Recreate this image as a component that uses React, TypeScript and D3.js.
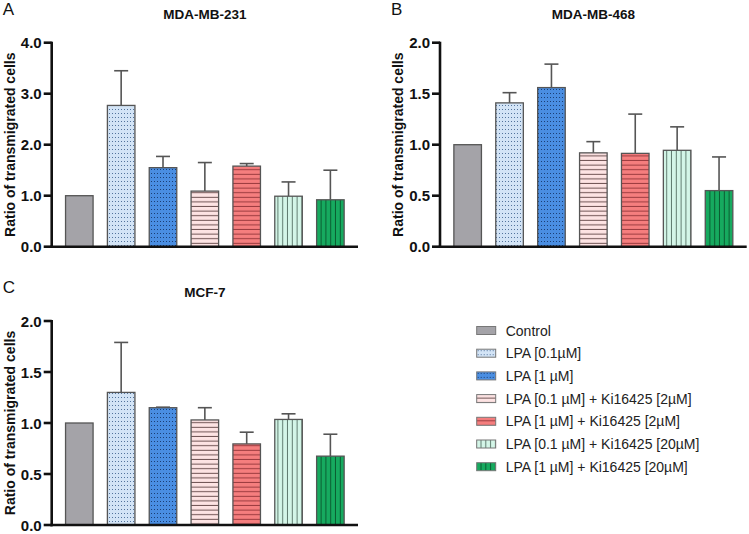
import React from "react";
import * as d3 from "d3";

const groups = [
  "Control",
  "LPA [0.1µM]",
  "LPA [1 µM]",
  "LPA [0.1 µM] + Ki16425 [2µM]",
  "LPA [1 µM] + Ki16425 [2µM]",
  "LPA [0.1 µM] + Ki16425 [20µM]",
  "LPA [1 µM] + Ki16425 [20µM]",
];

const meansA = [1.0, 2.77, 1.55, 1.09, 1.58, 0.99, 0.92];
const upperA = [1.0, 3.45, 1.77, 1.65, 1.63, 1.27, 1.5];
const meansB = [1.0, 1.41, 1.56, 0.92, 0.915, 0.945, 0.55];
const upperB = [1.0, 1.51, 1.79, 1.03, 1.3, 1.175, 0.88];
const meansC = [1.0, 1.3, 1.15, 1.03, 0.795, 1.035, 0.675];
const upperC = [1.0, 1.79, 1.155, 1.15, 0.91, 1.09, 0.89];

const ticksA = [0, 1, 2, 3, 4];
const ticksBC = [0, 0.5, 1, 1.5, 2];

const FONT = "Arial, 'Liberation Sans', Helvetica, sans-serif";

const patternIds = ["pCtrl", "pDotL", "pDotB", "pHPink", "pHSalm", "pVMint", "pVGreen"];

function Defs() {
  return (
    <defs>
      <pattern id="pCtrl" patternUnits="userSpaceOnUse" width={4} height={4}>
        <rect width={4} height={4} fill="#a4a3a8" />
      </pattern>
      <pattern id="pDotL" patternUnits="userSpaceOnUse" width={3} height={4}>
        <rect width={3} height={4} fill="#d3e4f6" />
        <rect x={1} y={1} width={1} height={1} fill="#52739c" />
      </pattern>
      <pattern id="pDotB" patternUnits="userSpaceOnUse" width={3} height={4}>
        <rect width={3} height={4} fill="#4a8ee2" />
        <rect x={1} y={1} width={1} height={1} fill="#1b3f75" />
      </pattern>
      <pattern id="pHPink" patternUnits="userSpaceOnUse" width={6} height={4.6}>
        <rect width={6} height={4.6} fill="#fde3e3" />
        <rect y={3.6} width={6} height={1} fill="#6e5252" />
      </pattern>
      <pattern id="pHSalm" patternUnits="userSpaceOnUse" width={6} height={4.6}>
        <rect width={6} height={4.6} fill="#f57e7e" />
        <rect y={3.6} width={6} height={1} fill="#9a3a3e" />
      </pattern>
      <pattern id="pVMint" patternUnits="userSpaceOnUse" width={4.8} height={6}>
        <rect width={4.8} height={6} fill="#d4f6e8" />
        <rect x={3.8} width={1} height={6} fill="#607c70" />
      </pattern>
      <pattern id="pVGreen" patternUnits="userSpaceOnUse" width={4.8} height={6}>
        <rect width={4.8} height={6} fill="#16aa5f" />
        <rect x={3.8} width={1} height={6} fill="#0a5c31" />
      </pattern>
    </defs>
  );
}

type PanelProps = {
  letter: string;
  title: string;
  means: number[];
  upper: number[];
  ticks: number[];
  yMax: number;
  x0: number;
  x1: number;
  yTop: number;
  yBottom: number;
};

function Panel({ letter, title, means, upper, ticks, yMax, x0, x1, yTop, yBottom }: PanelProps) {
  const x = d3
    .scaleBand<number>()
    .domain(d3.range(groups.length))
    .range([x0, x1])
    .paddingInner(0.342)
    .paddingOuter(0.331);
  const y = d3.scaleLinear().domain([0, yMax]).range([yBottom, yTop]);
  const fmt = d3.format(".1f");
  const midX = (x0 + x1) / 2;
  const midY = (yTop + yBottom) / 2;
  const bw = x.bandwidth();
  return (
    <g>
      <text x={x0 - 49} y={yTop - 28} fontFamily={FONT} fontSize={17} fill="#111">
        {letter}
      </text>
      <text
        x={midX}
        y={yTop - 24}
        fontFamily={FONT}
        fontSize={13.5}
        fontWeight="bold"
        textAnchor="middle"
        fill="#111"
      >
        {title}
      </text>
      <text
        transform={`translate(${x0 - 42},${midY}) rotate(-90)`}
        fontFamily={FONT}
        fontSize={14}
        fontWeight="bold"
        textAnchor="middle"
        dominantBaseline="central"
        fill="#111"
      >
        Ratio of transmigrated cells
      </text>
      {means.map((m, i) => {
        const bx = x(i)!;
        const cx = bx + bw / 2;
        return (
          <g key={i}>
            {upper[i] > m + 0.001 && (
              <g stroke="#555" strokeWidth={1.6}>
                <line x1={cx} x2={cx} y1={y(m)} y2={y(upper[i])} />
                <line x1={cx - 7} x2={cx + 7} y1={y(upper[i])} y2={y(upper[i])} />
              </g>
            )}
            {upper[i] > m && upper[i] <= m + 0.001 + 0.01 && null}
            <rect
              x={bx}
              y={y(m)}
              width={bw}
              height={y(0) - y(m)}
              fill={`url(#${patternIds[i]})`}
              stroke="#555"
              strokeWidth={1.3}
            />
          </g>
        );
      })}
      <g stroke="#111" strokeWidth={2.6}>
        <line x1={x0} x2={x0} y1={yTop - 1} y2={yBottom + 1.3} />
        <line x1={x0 - 1.3} x2={x1} y1={yBottom} y2={yBottom} />
        {ticks.map((t) => (
          <line key={t} x1={x0 - 8} x2={x0} y1={y(t)} y2={y(t)} />
        ))}
      </g>
      {ticks.map((t) => (
        <text
          key={t}
          x={x0 - 10}
          y={y(t)}
          fontFamily={FONT}
          fontSize={15}
          fontWeight="bold"
          textAnchor="end"
          dominantBaseline="central"
          fill="#111"
        >
          {fmt(t)}
        </text>
      ))}
    </g>
  );
}

function Legend({ x, y }: { x: number; y: number }) {
  const step = 22.7;
  return (
    <g>
      {groups.map((g, i) => (
        <g key={g} transform={`translate(${x},${y + i * step})`}>
          <rect x={0} y={-4} width={19} height={8} fill={`url(#${patternIds[i]})`} stroke="#777" strokeWidth={1} />
          <text x={29} y={0} fontFamily={FONT} fontSize={14} dominantBaseline="central" fill="#222">
            {g}
          </text>
        </g>
      ))}
    </g>
  );
}

export default function App() {
  return (
    <svg
      width={749}
      height={534}
      style={{ position: "absolute", left: 0, top: 0, background: "#fff" }}
    >
      <Defs />
      <Panel
        letter="A"
        title="MDA-MB-231"
        means={meansA}
        upper={upperA}
        ticks={ticksA}
        yMax={4}
        x0={51.7}
        x1={358}
        yTop={42.7}
        yBottom={246.7}
      />
      <Panel
        letter="B"
        title="MDA-MB-468"
        means={meansB}
        upper={upperB}
        ticks={ticksBC}
        yMax={2}
        x0={440}
        x1={746.7}
        yTop={42.7}
        yBottom={246.7}
      />
      <Panel
        letter="C"
        title="MCF-7"
        means={meansC}
        upper={upperC}
        ticks={ticksBC}
        yMax={2}
        x0={51.7}
        x1={358}
        yTop={321}
        yBottom={525}
      />
      <Legend x={476.7} y={330.5} />
    </svg>
  );
}
